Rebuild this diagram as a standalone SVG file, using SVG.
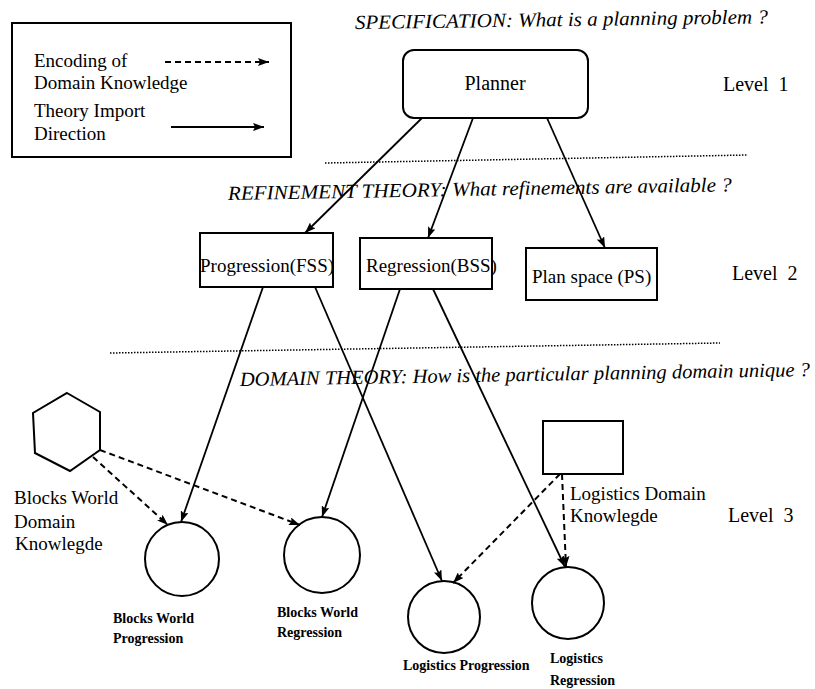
<svg xmlns="http://www.w3.org/2000/svg" width="815" height="689" viewBox="0 0 815 689">
<style>
  .shape { fill: none; stroke: #000; stroke-width: 2; }
  .t { font-family: "Liberation Serif", "Times New Roman", serif; fill: #000; }
  .lbl { font-size: 19px; }
  .lvl { font-size: 20px; white-space: pre; }
  .small { font-size: 14px; font-weight: bold; }
  .head { font-family: "Liberation Serif", "Times New Roman", serif; font-style: italic; font-size: 20px; fill: #000; }
  .solid { fill: none; stroke: #000; stroke-width: 1.8; marker-end: url(#ah); }
  .dash { fill: none; stroke: #000; stroke-width: 2; stroke-dasharray: 6 4; marker-end: url(#ah); }
  .sep { fill: none; stroke: #000; stroke-width: 1.5; stroke-dasharray: 1.5 1.5; }
</style>
<defs>
  <marker id="ah" markerUnits="userSpaceOnUse" markerWidth="12" markerHeight="8" refX="11" refY="4" orient="auto">
    <path d="M0,0 L11,4 L0,8 L2,4 z" fill="#000"/>
  </marker>
</defs>
<rect width="815" height="689" fill="#fff"/>

<g id="legend">
  <rect class="shape" x="12" y="23" width="279" height="134"/>
  <text class="t lbl" x="34" y="67">Encoding of</text>
  <text class="t lbl" x="34" y="89">Domain Knowledge</text>
  <text class="t lbl" x="34" y="117">Theory Import</text>
  <text class="t lbl" x="34" y="140">Direction</text>
  <line class="dash" x1="165" y1="62" x2="269" y2="62"/>
  <line class="solid" x1="171" y1="127" x2="264" y2="127"/>
</g>

<g id="headings">
  <text class="head" x="355" y="29" transform="rotate(-0.8 355 29)" textLength="413" lengthAdjust="spacingAndGlyphs">SPECIFICATION: What is a planning problem ?</text>
  <text class="head" x="228" y="200" transform="rotate(-1 228 200)" textLength="504" lengthAdjust="spacingAndGlyphs">REFINEMENT THEORY: What refinements are available ?</text>
  <text class="head" x="240" y="386" transform="rotate(-1 240 386)" textLength="570" lengthAdjust="spacingAndGlyphs">DOMAIN THEORY: How is the particular planning domain unique ?</text>
</g>

<g id="separators">
  <line class="sep" x1="325" y1="163" x2="748" y2="155"/>
  <line class="sep" x1="110" y1="353" x2="720" y2="343"/>
</g>

<g id="levels">
  <text class="t lvl" x="723" y="91" xml:space="preserve">Level  1</text>
  <text class="t lvl" x="732" y="280" xml:space="preserve">Level  2</text>
  <text class="t lvl" x="728" y="522" xml:space="preserve">Level  3</text>
</g>

<g id="planner">
  <rect class="shape" x="403" y="50" width="185" height="68" rx="11" ry="11"/>
  <text class="t" x="495" y="90" font-size="20" text-anchor="middle">Planner</text>
</g>

<g id="progression">
  <rect class="shape" x="200" y="233" width="133" height="54"/>
  <text class="t lbl" x="200" y="272">Progression(FSS)</text>
</g>

<g id="regression">
  <rect class="shape" x="360" y="238" width="132" height="51"/>
  <text class="t lbl" x="366" y="272">Regression(BSS)</text>
</g>

<g id="planspace">
  <rect class="shape" x="526" y="248" width="131" height="52"/>
  <text class="t lbl" x="532" y="283">Plan space (PS)</text>
</g>

<g id="bw-knowledge">
  <polygon class="shape" points="67,393 100,412 100,450 70,471 35,453 33,413"/>
  <text class="t lbl" x="14" y="504">Blocks World</text>
  <text class="t lbl" x="14" y="528">Domain</text>
  <text class="t lbl" x="15" y="550">Knowlegde</text>
</g>

<g id="log-knowledge">
  <rect class="shape" x="543" y="421" width="80" height="53"/>
  <text class="t lbl" x="570" y="500">Logistics Domain</text>
  <text class="t lbl" x="570" y="522">Knowlegde</text>
</g>

<g id="bw-progression">
  <circle class="shape" cx="182" cy="559" r="37"/>
  <text class="t small" x="113" y="623">Blocks World</text>
  <text class="t small" x="113" y="643">Progression</text>
</g>

<g id="bw-regression">
  <circle class="shape" cx="322" cy="555" r="38"/>
  <text class="t small" x="277" y="617">Blocks World</text>
  <text class="t small" x="277" y="637">Regression</text>
</g>

<g id="log-progression">
  <circle class="shape" cx="444" cy="617" r="36"/>
  <text class="t small" x="403" y="670">Logistics Progression</text>
</g>

<g id="log-regression">
  <circle class="shape" cx="568" cy="603" r="36"/>
  <text class="t small" x="550" y="663">Logistics</text>
  <text class="t small" x="550" y="685">Regression</text>
</g>

<g id="connectors">
  <line class="solid" x1="422" y1="118" x2="305" y2="233"/>
  <line class="solid" x1="473" y1="118" x2="428" y2="238"/>
  <line class="solid" x1="547" y1="118" x2="605" y2="248"/>
  <line class="solid" x1="263" y1="287" x2="181" y2="522"/>
  <line class="solid" x1="315" y1="287" x2="442" y2="581"/>
  <line class="solid" x1="400" y1="289" x2="322" y2="517"/>
  <line class="solid" x1="433" y1="289" x2="565" y2="567"/>
  <line class="dash" x1="93" y1="457" x2="168" y2="525"/>
  <line class="dash" x1="100" y1="450" x2="300" y2="525"/>
  <line class="dash" x1="560" y1="474" x2="453" y2="583"/>
  <line class="dash" x1="562" y1="474" x2="566" y2="567"/>
</g>
</svg>
